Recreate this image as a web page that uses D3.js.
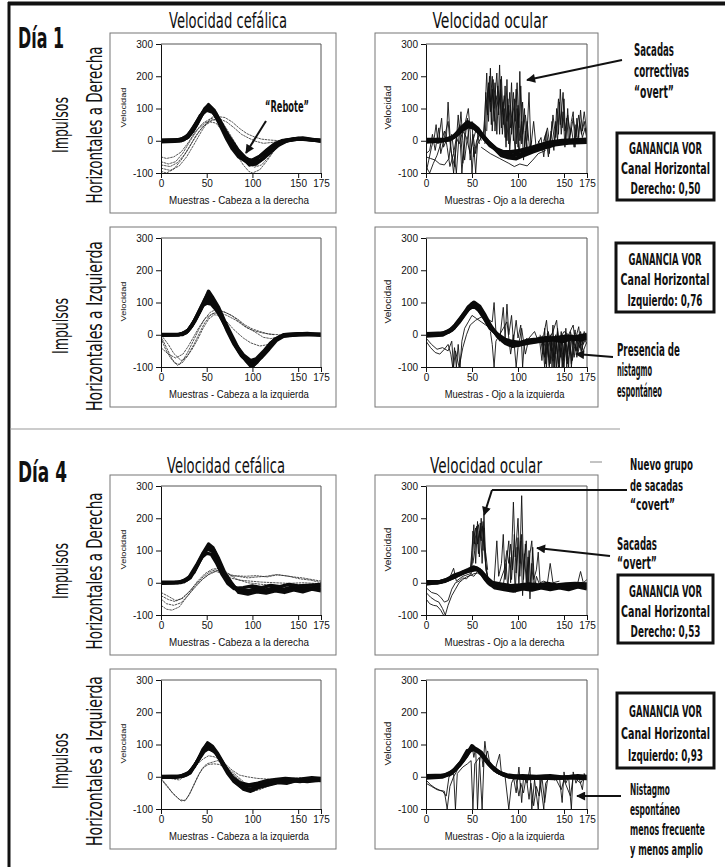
<!doctype html>
<html lang="es">
<head>
<meta charset="utf-8">
<title>Impulsos cefálicos - Día 1 / Día 4</title>
<style>
  body { margin: 0; background: #fff; }
  svg text { fill: #111; }
  .cond { font-family: 'Liberation Sans Narrow', 'DejaVu Sans Condensed', 'Roboto Condensed', sans-serif; }
  .sans { font-family: 'Liberation Sans', Arial, sans-serif; }
  .tick text { font-family: 'Liberation Sans', Arial, sans-serif; font-size: 10px; }
</style>
</head>
<body>
<div id="fig"></div>
<script src="https://cdnjs.cloudflare.com/ajax/libs/d3/7.8.5/d3.min.js"></script>
<script>
// ---- data (samples, velocity) ----
var xTicks = [0, 50, 100, 150, 175];
var yTicks = [-100, 0, 100, 200, 300];
var xTitles = ['Muestras - Cabeza a la derecha', 'Muestras - Cabeza a la izquierda',
               'Muestras - Ojo a la derecha', 'Muestras - Ojo a la izquierda'];
var gainLabels = ['Derecho: 0,50', 'Izquierdo: 0,76', 'Derecho: 0,53', 'Izquierdo: 0,93'];

// Día 1 - cabeza a la derecha
var headD1R_core = [
  [[0,0],[10,1],[20,2],[28,8],[35,30],[42,70],[48,100],[51,108],[55,98],[60,75],[66,40],[72,5],[78,-25],[85,-50],[92,-62],[98,-64],[105,-55],[112,-40],[120,-20],[128,-6],[135,0],[145,4],[155,6],[165,2],[175,0]],
  [[0,-3],[15,-2],[25,3],[32,20],[40,55],[46,88],[50,102],[54,100],[60,85],[66,55],[72,20],[80,-20],[88,-50],[95,-68],[102,-70],[110,-58],[118,-35],[126,-12],[135,0],[150,8],[165,3],[175,-2]],
  [[0,2],[18,3],[27,10],[35,38],[43,78],[50,95],[57,88],[63,65],[70,30],[77,-8],[85,-40],[93,-58],[100,-60],[108,-48],[116,-28],[124,-10],[132,0],[145,6],[160,4],[175,1]],
  [[0,-1],[22,0],[30,12],[38,45],[45,82],[52,112],[58,95],[65,55],[72,18],[80,-18],[90,-55],[97,-75],[104,-72],[112,-55],[122,-25],[132,-5],[142,3],[155,9],[175,0]],
  [[0,1],[20,1],[30,18],[40,62],[48,96],[53,104],[60,78],[68,42],[76,6],[84,-28],[92,-52],[100,-66],[108,-62],[118,-40],[128,-15],[138,0],[150,5],[175,2]]
];
var headD1R_thin = [
  [[0,-50],[6,-55],[14,-50],[22,-35],[30,-5],[38,30],[46,55],[54,68],[62,75],[70,72],[78,58],[86,38],[94,22],[102,12],[110,5],[120,2],[130,0]],
  [[0,-65],[8,-72],[16,-65],[24,-38],[32,0],[40,35],[48,55],[56,65],[64,68],[72,58],[80,40],[88,20],[96,8],[104,-2],[112,-8],[122,-5],[135,0]],
  [[0,-95],[6,-100],[14,-88],[22,-60],[30,-25],[38,15],[46,45],[54,58],[60,55],[66,35],[74,0],[82,-40],[90,-75],[96,-95],[100,-100],[108,-90],[116,-62],[124,-30],[132,-10],[142,0]],
  [[0,-75],[10,-80],[18,-68],[26,-42],[34,-5],[42,30],[50,55],[58,65],[64,58],[70,35],[78,0],[86,-35],[94,-65],[102,-82],[110,-75],[118,-50],[126,-22],[136,-3]],
  [[0,-85],[10,-92],[20,-78],[28,-50],[36,-12],[44,28],[52,62],[58,78],[64,70],[70,45],[78,8],[86,-30],[94,-60],[102,-72],[112,-58],[122,-28],[132,-6]]
];

// Día 1 - cabeza a la izquierda
var headD1L_core = [
  [[0,0],[20,1],[28,8],[35,35],[42,75],[48,110],[51,125],[55,112],[60,90],[66,55],[72,15],[80,-30],[88,-65],[95,-85],[100,-92],[106,-80],[112,-60],[120,-30],[128,-10],[135,0],[150,3],[175,0]],
  [[0,-2],[18,0],[27,5],[34,28],[41,65],[47,100],[50,108],[56,102],[62,80],[68,45],[75,5],[83,-40],[90,-70],[97,-80],[103,-85],[110,-70],[118,-45],[126,-18],[135,-3],[155,2],[175,-1]],
  [[0,1],[22,2],[30,15],[38,50],[45,90],[50,98],[55,95],[62,72],[70,30],[78,-15],[86,-55],[94,-78],[101,-95],[108,-72],[116,-42],[124,-15],[134,0],[160,4],[175,0]],
  [[0,0],[24,1],[32,20],[40,62],[46,95],[52,135],[56,118],[63,85],[70,40],[77,0],[85,-45],[93,-80],[99,-100],[105,-85],[113,-55],[122,-22],[132,-5],[150,0],[175,2]],
  [[0,-1],[20,0],[29,10],[37,42],[44,80],[50,115],[54,108],[60,82],[67,48],[74,10],[82,-32],[90,-62],[98,-80],[104,-75],[112,-52],[120,-25],[130,-6],[140,0],[175,1]]
];
var headD1L_thin = [
  [[0,-10],[5,-45],[10,-70],[15,-88],[20,-92],[25,-75],[30,-50],[36,-15],[42,20],[48,50],[54,70],[60,78],[68,72],[76,62],[84,48],[92,30],[100,18],[108,10],[118,2],[130,0]],
  [[0,-5],[6,-40],[12,-75],[18,-95],[24,-85],[30,-60],[36,-30],[42,5],[48,38],[54,60],[62,75],[70,70],[78,58],[86,40],[94,22],[102,12],[112,5],[124,0]],
  [[0,0],[8,-30],[14,-58],[22,-80],[28,-70],[34,-45],[40,-15],[46,20],[52,48],[58,62],[64,60],[72,40],[80,15],[90,-10],[98,-25],[108,-35],[118,-30],[128,-12],[140,0]],
  [[0,-40],[8,-60],[16,-72],[24,-60],[30,-35],[36,-5],[42,25],[48,50],[56,65],[64,68],[72,60],[82,45],[92,25],[102,10],[112,-8],[120,-12],[132,-5],[145,0]]
];

// Día 4 - cabeza a la derecha
var headD4R_core = [
  [[0,0],[15,1],[25,3],[32,15],[40,55],[46,90],[51,105],[56,98],[62,70],[68,35],[74,5],[80,-12],[86,-22],[95,-25],[105,-18],[115,-22],[125,-15],[135,-20],[145,-12],[155,-18],[165,-15],[175,-10]],
  [[0,-2],[18,0],[28,8],[36,32],[43,72],[49,100],[53,115],[58,100],[64,62],[70,22],[77,-8],[84,-25],[92,-30],[100,-22],[110,-28],[120,-20],[130,-25],[140,-18],[150,-22],[160,-15],[175,-20]],
  [[0,2],[20,2],[30,12],[38,45],[45,80],[50,92],[55,88],[61,60],[67,25],[73,-2],[80,-18],[90,-15],[100,-10],[110,-15],[120,-8],[130,-12],[140,-5],[150,-10],[160,-8],[175,-5]],
  [[0,0],[22,1],[31,18],[39,55],[46,92],[52,120],[57,108],[63,75],[70,30],[77,0],[85,-30],[95,-35],[105,-28],[115,-32],[125,-25],[135,-30],[145,-22],[155,-28],[165,-20],[175,-25]]
];
var headD4R_thin = [
  [[0,-40],[8,-52],[15,-58],[22,-50],[30,-30],[38,-5],[46,18],[54,35],[60,40],[66,32],[74,22],[84,20],[95,15],[105,18],[115,20],[125,25],[135,22],[145,18],[155,15],[165,10],[175,5]],
  [[0,-50],[6,-65],[14,-70],[22,-62],[30,-38],[38,-12],[46,12],[54,30],[62,38],[70,30],[80,22],[92,20],[104,22],[116,18],[128,25],[140,20],[152,12],[164,8],[175,0]],
  [[0,-70],[6,-82],[12,-85],[20,-75],[28,-45],[36,-15],[44,8],[52,25],[60,35],[68,28],[76,15],[86,8],[98,5],[110,2],[125,0],[140,-2],[155,0],[175,-3]],
  [[0,-30],[8,-42],[16,-55],[24,-48],[32,-25],[40,5],[48,28],[56,42],[64,45],[72,32],[82,12],[95,0],[110,-5],[125,-8],[140,-10],[155,-5],[175,-8]]
];

// Día 4 - cabeza a la izquierda
var headD4L_core = [
  [[0,0],[15,-2],[25,2],[32,12],[40,50],[46,85],[50,100],[55,90],[61,70],[67,40],[73,10],[80,-15],[87,-30],[95,-40],[103,-35],[112,-28],[122,-20],[132,-15],[142,-12],[152,-15],[162,-10],[175,-12]],
  [[0,-2],[18,0],[28,6],[36,30],[43,65],[49,90],[54,85],[60,75],[66,50],[72,22],[79,-5],[86,-22],[94,-30],[102,-28],[112,-22],[122,-18],[132,-10],[142,-15],[152,-8],[162,-12],[175,-6]],
  [[0,1],[20,1],[30,10],[38,40],[45,75],[51,105],[56,95],[62,72],[68,42],[75,8],[82,-18],[90,-38],[98,-45],[108,-32],[118,-25],[128,-18],[138,-20],[148,-12],[160,-15],[175,-10]],
  [[0,0],[22,2],[32,15],[40,48],[47,78],[52,88],[58,80],[64,58],[70,30],[78,0],[86,-18],[96,-25],[106,-20],[116,-12],[126,-8],[136,-5],[150,-8],[165,-3],[175,-5]]
];
var headD4L_thin = [
  [[0,-5],[6,-25],[12,-48],[18,-65],[22,-75],[27,-72],[32,-50],[37,-20],[42,10],[47,30],[52,38],[58,40],[64,38],[72,25],[80,5],[88,-15],[96,-30],[105,-35],[115,-25],[125,-18],[140,-15],[155,-12],[175,-8]],
  [[0,-8],[8,-35],[14,-55],[20,-70],[26,-75],[30,-60],[35,-30],[40,0],[45,25],[50,40],[56,45],[62,50],[68,40],[76,20],[84,0],[92,-20],[100,-45],[108,-40],[118,-28],[130,-18],[145,-10],[160,-8],[175,-5]],
  [[0,0],[10,-5],[20,-10],[30,10],[38,35],[46,55],[52,65],[58,62],[64,55],[70,40],[78,20],[86,5],[94,0],[105,-5],[120,-8],[140,-5],[175,-2]]
];

// Día 1 - ojo a la derecha
var eyeD1R_core = [
  [[0,0],[15,0],[25,3],[32,15],[40,35],[46,45],[52,40],[58,25],[64,5],[70,-15],[78,-30],[86,-40],[94,-45],[102,-42],[110,-35],[120,-25],[130,-15],[140,-8],[155,-2],[175,0]],
  [[0,-3],[18,1],[28,8],[36,28],[44,50],[50,52],[56,38],[62,15],[68,-5],[76,-25],[84,-35],[92,-35],[100,-32],[110,-25],[122,-15],[134,-5],[148,0],[175,4]],
  [[0,3],[20,3],[30,12],[38,38],[45,58],[52,45],[60,20],[66,0],[74,-22],[82,-45],[90,-52],[98,-55],[106,-45],[116,-34],[128,-22],[140,-12],[155,-6],[175,-4]]
];
var eyeD1R_thin = [
  [[0,-100],[3,-60],[6,-20],[9,10],[11,50],[13,-10],[15,30],[17,70],[19,-20],[22,0],[24,120],[26,20],[28,-50],[30,-100],[32,-40],[35,80],[37,10],[39,-100],[41,-30],[43,60],[46,100],[48,30],[50,-100],[52,-20],[54,-100],[56,-10],[60,10]],
  [[0,-50],[5,-55],[10,-60],[15,-72],[20,-75],[25,-55],[28,20],[30,-30],[33,-100],[36,20],[38,90],[40,0],[42,-60],[44,-10],[47,40],[50,60],[52,-50],[55,0],[58,20],[62,10]],
  [[0,-80],[4,-100],[8,-70],[12,-45],[16,-10],[20,30],[23,-20],[26,-80],[30,-40],[33,10],[36,-10],[40,30],[44,10],[48,-40],[51,0],[55,40],[58,-10]],
  [[0,-40],[4,-30],[7,20],[10,-30],[14,40],[16,-40],[20,10],[24,60],[27,-30],[31,-80],[34,30],[37,50],[40,-70],[43,20],[45,70],[48,-60],[51,20],[54,-40],[57,30],[60,0]],
  [[62,10],[64,80],[66,210],[68,60],[70,225],[72,30],[75,180],[77,20],[80,235],[82,40],[84,120],[86,10],[88,190],[90,-10],[93,180],[95,0],[98,160],[100,-20],[102,215],[104,-10],[107,100],[109,-30],[112,150],[114,-20],[117,60],[120,-30]],
  [[63,0],[65,150],[67,80],[69,200],[71,50],[73,190],[75,30],[78,170],[80,20],[82,200],[84,50],[86,170],[88,0],[91,150],[93,20],[96,130],[98,-10],[100,110],[102,0],[105,120],[107,-20],[110,60],[113,-40]],
  [[64,-10],[66,120],[68,170],[70,90],[72,160],[74,60],[76,140],[79,100],[81,160],[83,20],[85,100],[87,-20],[89,130],[91,-30],[94,90],[97,-40],[99,100],[101,-50],[104,60],[106,-60],[108,30],[111,-40],[115,0]],
  [[66,30],[68,180],[70,120],[72,200],[74,100],[77,210],[79,80],[81,190],[83,90],[85,140],[88,60],[90,110],[92,40],[95,150],[97,60],[99,180],[101,40],[103,170],[105,20],[108,80],[111,0]],
  [[60,-20],[70,-40],[80,-55],[90,-70],[96,-80],[102,-72],[110,-78],[116,-60],[122,-40],[130,-30]],
  [[120,-20],[125,10],[128,-50],[131,30],[134,-40],[137,60],[140,-10],[142,100],[144,20],[146,160],[148,40],[150,130],[152,-10],[154,100],[156,0],[158,60],[160,90],[162,-20],[164,70],[166,10],[168,95],[170,30],[172,60],[175,0]],
  [[122,0],[126,-30],[130,20],[133,-50],[136,30],[139,-30],[141,60],[143,0],[145,120],[147,20],[149,90],[151,-20],[153,70],[155,-10],[158,40],[161,-20],[163,50],[165,-10],[167,60],[170,10],[173,40],[175,10]],
  [[128,0],[132,40],[135,-20],[138,80],[141,10],[144,130],[146,50],[149,150],[151,30],[154,80],[157,20],[160,70],[163,10],[166,80],[169,20],[172,90],[175,20]]
];

// Día 1 - ojo a la izquierda
var eyeD1L_core = [
  [[0,0],[15,2],[25,10],[32,30],[40,60],[46,80],[52,90],[58,75],[64,50],[70,20],[78,0],[86,-15],[94,-22],[102,-25],[110,-18],[120,-15],[130,-10],[140,-12],[150,-8],[160,-10],[175,-5]],
  [[0,-3],[18,0],[28,15],[36,40],[44,72],[50,95],[56,85],[62,60],[68,30],[76,5],[84,-20],[92,-30],[100,-32],[108,-22],[118,-20],[128,-18],[138,-15],[148,-20],[158,-12],[168,-15],[175,-10]],
  [[0,2],[20,5],[30,20],[38,50],[46,85],[52,100],[58,88],[64,60],[70,28],[78,-5],[86,-25],[94,-35],[102,-30],[112,-25],[122,-20],[132,-15],[142,-10],[152,-5],[162,-8],[175,0]]
];
var eyeD1L_thin = [
  [[125,-10],[128,-40],[130,-90],[132,-20],[134,-100],[136,-10],[138,-80],[140,-5],[142,-100],[144,-15],[146,-70],[148,0],[150,-100],[152,-20],[154,-60],[156,-5],[158,-90],[160,-10],[163,-50],[166,-5],[169,-60],[172,0],[175,-20]],
  [[126,-5],[129,-100],[131,-10],[133,-70],[135,0],[137,-100],[139,-20],[141,-60],[143,10],[145,-100],[147,-10],[149,-80],[151,0],[153,-100],[155,-20],[157,-50],[159,0],[161,-70],[164,-10],[167,-40],[170,0],[175,-15]],
  [[124,0],[127,-60],[129,20],[131,-100],[133,10],[136,-50],[138,30],[140,-100],[143,20],[145,-40],[147,10],[150,-70],[152,20],[155,-100],[157,10],[160,-30],[162,15],[165,-50],[168,10],[171,-30],[175,0]],
  [[123,-5],[126,-80],[128,-10],[130,-60],[132,5],[135,-90],[137,-5],[139,-100],[141,0],[144,-90],[146,-5],[148,-100],[151,-10],[153,-80],[156,0],[158,-100],[161,-5],[164,-70],[166,0],[169,-50],[171,-5],[175,-30]],
  [[127,-20],[129,-70],[132,-30],[134,-95],[137,-40],[139,-70],[142,-30],[144,-100],[147,-40],[149,-100],[152,-30],[154,-90],[157,-40],[159,-80],[162,-30],[165,-60],[168,-20],[171,-50],[175,-20]],
  [[0,-20],[5,-40],[10,-55],[15,-60],[20,-45],[24,-30],[27,-60],[29,-100],[31,-40],[33,-100],[35,-30],[37,-100],[39,-20],[42,20],[46,40],[50,60],[55,50],[60,40],[65,30],[70,20]],
  [[0,-10],[6,-30],[12,-45],[18,-40],[24,-50],[28,-20],[30,-100],[32,-50],[36,-100],[40,-40],[44,0],[48,30],[54,45],[60,55],[66,50],[72,40],[74,100],[76,10],[80,-20],[84,85],[86,-10],[88,95],[90,0],[93,60],[95,-20],[98,45],[100,-10],[103,30],[105,-100],[107,-20],[110,-10]],
  [[70,10],[72,-30],[74,-100],[76,-20],[80,0],[84,20],[88,40],[90,-10],[92,-60],[95,0],[98,-100],[100,-40],[104,20],[108,-60],[112,-10],[118,10],[122,-20],[128,0],[131,45],[133,-20],[138,10],[142,45],[144,-20],[150,10],[155,0],[160,30],[162,-20],[166,25],[168,-30],[172,10],[175,-10]]
];

// Día 4 - ojo a la derecha
var eyeD4R_core = [
  [[0,0],[12,0],[20,5],[28,15],[36,25],[44,35],[50,42],[55,45],[60,30],[65,10],[70,-5],[80,-10],[90,-15],[100,-12],[110,-15],[120,-10],[130,-15],[140,-12],[150,-8],[160,-12],[175,-10]],
  [[0,-3],[14,2],[22,8],[30,22],[38,30],[46,40],[52,48],[58,40],[63,20],[68,0],[75,-15],[85,-20],[95,-25],[105,-18],[115,-22],[125,-15],[135,-20],[145,-15],[155,-20],[165,-12],[175,-18]],
  [[0,2],[16,3],[24,10],[32,20],[40,32],[48,38],[54,42],[60,35],[66,15],[72,0],[82,-5],[92,-10],[102,-8],[112,-5],[122,-8],[132,-3],[142,-8],[152,-5],[162,-3],[175,-5]]
];
var eyeD4R_thin = [
  [[48,40],[50,100],[52,180],[54,60],[56,190],[58,80],[60,200],[62,100],[63,210],[65,60],[67,20]],
  [[49,30],[51,160],[53,120],[55,175],[57,90],[59,185],[61,60],[63,170],[65,40],[68,10]],
  [[50,50],[52,140],[54,170],[56,120],[58,160],[60,130],[62,190],[64,80],[66,30],[69,0]],
  [[51,60],[53,100],[55,150],[57,180],[59,140],[61,175],[63,120],[65,90],[67,40]],
  [[74,0],[77,130],[79,20],[82,60],[84,150],[86,10],[88,80],[90,130],[92,0],[95,250],[97,80],[100,200],[102,60],[104,270],[106,40],[109,130],[111,-10],[113,90],[115,130],[117,10],[120,40],[122,95],[124,0],[128,5],[132,0],[135,60],[138,0],[145,5]],
  [[80,0],[85,40],[88,100],[90,60],[92,120],[94,40],[96,150],[98,30],[100,140],[102,20],[104,150],[106,10],[108,120],[110,-20],[112,100],[114,-10],[116,110],[118,-20],[120,20],[124,-10]],
  [[84,-10],[87,60],[89,-20],[91,80],[93,10],[95,100],[97,-30],[99,110],[101,-10],[103,130],[105,-40],[107,90],[109,0],[111,80],[113,-50],[115,60],[117,-20],[120,0]],
  [[20,0],[25,10],[30,45],[33,5],[40,20],[50,30]],
  [[160,-5],[165,0],[168,35],[171,0],[175,10]],
  [[0,-30],[5,-45],[10,-55],[14,-60],[18,-80],[21,-100],[24,-70],[28,-40],[32,-20],[36,0],[40,10],[44,18],[48,22],[52,28],[56,30],[62,20],[70,10]],
  [[0,-15],[6,-30],[12,-35],[16,-45],[20,-60],[24,-55],[28,-20],[32,0],[36,5],[40,15],[44,12],[48,25],[52,20],[56,35],[60,25],[66,15]],
  [[0,-50],[4,-65],[8,-70],[12,-72],[16,-85],[19,-100]]
];

// Día 4 - ojo a la izquierda
var eyeD4L_core = [
  [[0,0],[15,2],[25,8],[32,25],[40,50],[46,75],[50,88],[55,85],[60,75],[66,50],[72,30],[80,12],[88,5],[100,0],[115,-2],[130,0],[145,-3],[160,0],[175,-2]],
  [[0,-3],[18,0],[28,12],[36,35],[44,65],[50,95],[56,80],[62,65],[68,40],[75,20],[85,5],[95,-2],[110,-5],[125,-3],[140,-5],[155,-2],[175,-5]],
  [[0,2],[20,4],[30,18],[38,45],[45,80],[52,85],[58,78],[64,55],[70,35],[78,15],[90,0],[105,2],[120,0],[135,2],[150,-2],[165,2],[175,0]]
];
var eyeD4L_thin = [
  [[0,-10],[5,-25],[10,-35],[15,-42],[20,-45],[23,-100],[26,-30],[30,0],[34,20],[38,40],[42,60],[46,80],[50,100],[52,60],[54,90],[56,-100],[58,40],[60,80],[62,30],[64,110],[66,60],[68,40],[72,30]],
  [[0,-20],[6,-30],[12,-40],[18,-45],[22,-60],[25,0],[30,10],[32,-100],[34,10],[40,30],[45,40],[49,50],[51,-100],[53,40],[58,60],[61,-100],[63,50],[67,80],[70,30],[75,20],[80,70],[82,10],[86,0],[90,-100],[93,-20],[96,0]],
  [[95,0],[98,-50],[101,30],[104,-80],[106,0],[110,-20],[113,30],[115,-100],[118,-10],[122,-100],[124,-10],[128,-100],[130,-20],[135,0],[140,-10],[145,0],[148,-80],[150,15],[152,-20],[155,0],[158,-100],[160,15],[163,-20],[166,0],[170,-40],[172,10],[175,-10]],
  [[98,-10],[101,-60],[103,-20],[106,-50],[109,0],[112,-70],[114,-20],[117,-90],[120,-30],[123,-60],[126,0],[129,-80],[132,-10],[140,0],[147,-40],[150,-10],[157,-60],[160,0],[168,-20],[172,0]]
];

// ---- layout ----
var W = 725, H = 867;
var cols = [{box: [110, 336], plot: [161, 321]}, {box: [375, 598], plot: [426, 587]}];
var rowTops = [44, 238, 486, 680], plotH = 129;

var svg = d3.select('#fig').append('svg').attr('width', W).attr('height', H)
  .style('background', '#fff');

var defs = svg.append('defs');
defs.append('marker').attr('id', 'arrow').attr('viewBox', '0 0 10 10')
  .attr('refX', 9).attr('refY', 5).attr('markerWidth', 11).attr('markerHeight', 9)
  .attr('markerUnits', 'userSpaceOnUse').attr('orient', 'auto')
  .append('path').attr('d', 'M0,0L10,5L0,10Z').attr('fill', '#111');

// text squeezed to a given width by a horizontal scale (narrow look of the original)
function txt(x, y, s, size, weight, anchor, len, cls, rot) {
  var t = svg.append('text').text(s)
    .attr('class', cls || 'cond')
    .style('font-size', size + 'px').style('font-weight', weight || 'normal')
    .attr('text-anchor', anchor || 'start');
  var sx = 1;
  if (len) sx = len / t.node().getComputedTextLength();
  t.attr('transform', 'translate(' + x + ',' + y + ')' + (rot ? ' rotate(' + rot + ')' : '') + ' scale(' + sx + ',1)');
  return t;
}

// outer frame (top and left) and separator
svg.append('line').attr('x1', 8).attr('x2', W).attr('y1', 3.5).attr('y2', 3.5).attr('stroke', '#111').attr('stroke-width', 4);
svg.append('line').attr('x1', 9).attr('x2', 9).attr('y1', 2).attr('y2', H).attr('stroke', '#111').attr('stroke-width', 3);
svg.append('line').attr('x1', 10).attr('x2', 620).attr('y1', 429).attr('y2', 429).attr('stroke', '#999').attr('stroke-width', 1.2);
svg.append('line').attr('x1', 590).attr('x2', 602).attr('y1', 462).attr('y2', 462).attr('stroke', '#888').attr('stroke-width', 1);

var panels = [
  {c: 0, r: 0, core: headD1R_core, thin: headD1R_thin, title: xTitles[0], eye: false},
  {c: 0, r: 1, core: headD1L_core, thin: headD1L_thin, title: xTitles[1], eye: false},
  {c: 0, r: 2, core: headD4R_core, thin: headD4R_thin, title: xTitles[0], eye: false},
  {c: 0, r: 3, core: headD4L_core, thin: headD4L_thin, title: xTitles[1], eye: false},
  {c: 1, r: 0, core: eyeD1R_core, thin: eyeD1R_thin, title: xTitles[2], eye: true},
  {c: 1, r: 1, core: eyeD1L_core, thin: eyeD1L_thin, title: xTitles[3], eye: true},
  {c: 1, r: 2, core: eyeD4R_core, thin: eyeD4R_thin, title: xTitles[2], eye: true},
  {c: 1, r: 3, core: eyeD4L_core, thin: eyeD4L_thin, title: xTitles[3], eye: true}
];

panels.forEach(function (p, i) {
  var col = cols[p.c], top = rowTops[p.r], bot = top + plotH;
  var x = d3.scaleLinear().domain([0, 175]).range(col.plot);
  var y = d3.scaleLinear().domain([-100, 300]).range([bot, top]);

  // panel frame
  svg.append('rect').attr('x', col.box[0]).attr('y', top - 11)
    .attr('width', col.box[1] - col.box[0]).attr('height', 180)
    .attr('fill', 'none').attr('stroke', '#777').attr('stroke-width', 1);

  var clipId = 'clip' + i;
  defs.append('clipPath').attr('id', clipId).append('rect')
    .attr('x', col.plot[0]).attr('y', top).attr('width', col.plot[1] - col.plot[0]).attr('height', plotH);

  var line = d3.line().x(function (d) { return x(d[0]); }).y(function (d) { return y(d[1]); });
  var g = svg.append('g').attr('clip-path', 'url(#' + clipId + ')');

  g.selectAll('path.thin').data(p.thin).join('path').attr('class', 'thin')
    .attr('d', line).attr('fill', 'none')
    .attr('stroke', p.eye ? '#111' : '#2a2a2a')
    .attr('stroke-width', p.eye ? 0.9 : 0.8)
    .attr('stroke-dasharray', p.eye ? null : '2.5,0.7');
  g.selectAll('path.core').data(p.core).join('path').attr('class', 'core')
    .attr('d', line).attr('fill', 'none').attr('stroke', '#0a0a0a')
    .attr('stroke-width', p.eye ? 4 : 3.4).attr('stroke-linejoin', 'round');

  // plot frame (top / right)
  svg.append('path').attr('d', 'M' + col.plot[0] + ',' + top + 'H' + col.plot[1] + 'V' + bot)
    .attr('fill', 'none').attr('stroke', '#555').attr('stroke-width', 1);

  var ax = svg.append('g').attr('transform', 'translate(0,' + bot + ')')
    .call(d3.axisBottom(x).tickValues(xTicks).tickSize(5).tickSizeOuter(0).tickPadding(2)
      .tickFormat(function (d) { return String(d); }));
  var ay = svg.append('g').attr('transform', 'translate(' + col.plot[0] + ',0)')
    .call(d3.axisLeft(y).tickValues(yTicks).tickSize(5).tickSizeOuter(0).tickPadding(3)
      .tickFormat(function (d) { return String(d); }));
  [ax, ay].forEach(function (a) {
    a.selectAll('path.domain').attr('stroke', '#111');
    a.selectAll('.tick line').attr('stroke', '#111');
    a.selectAll('.tick text').attr('fill', '#111').style('font-size', '10px');
  });

  var cx = (col.plot[0] + col.plot[1]) / 2 - 2;
  txt(cx, bot + 31, p.title, 10.5, 'normal', 'middle', p.eye ? 120 : 140, 'sans');
  txt(col.plot[0] - 35, top + plotH / 2 - 1, 'Velocidad', p.eye ? 9 : 8, 'normal', 'middle',
      p.eye ? 44 : 40, 'sans', -90);
});

// ---- titles & row labels ----
txt(18, 48, 'Día 1', 28, 'bold', 'start', 46);
txt(18, 482, 'Día 4', 28, 'bold', 'start', 49);
txt(228, 28, 'Velocidad cefálica', 21, 'normal', 'middle', 118);
txt(490, 28, 'Velocidad ocular', 21, 'normal', 'middle', 115);
txt(226, 473, 'Velocidad cefálica', 21, 'normal', 'middle', 118);
txt(486, 473, 'Velocidad ocular', 21, 'normal', 'middle', 112);

var rowLabels = [['Impulsos', 'Horizontales a Derecha'], ['Impulsos', 'Horizontales a Izquierda'],
                 ['Impulsos', 'Horizontales a Derecha'], ['Impulsos', 'Horizontales a Izquierda']];
var rowCenters = [125, 326, 571, 761];
rowLabels.forEach(function (lab, i) {
  txt(68, rowCenters[i], lab[0], 22, 'normal', 'middle', 56, 'cond', -90);
  txt(102, rowCenters[i], lab[1], 22, 'normal', 'middle', i % 2 ? 170 : 157, 'cond', -90);
});

// ---- gain boxes ----
var gainBoxes = [[617, 133, 97, 67], [616, 243, 98, 69], [618, 575, 95, 68], [617, 693, 97, 75]];
gainBoxes.forEach(function (b, i) {
  svg.append('rect').attr('x', b[0]).attr('y', b[1]).attr('width', b[2]).attr('height', b[3])
    .attr('fill', '#fff').attr('stroke', '#111').attr('stroke-width', 3);
  var cx = b[0] + b[2] / 2, gap = (b[3] - 8) / 3;
  txt(cx, b[1] + 4 + gap * 0.88, 'GANANCIA VOR', 15.5, 'bold', 'middle', 73);
  txt(cx, b[1] + 4 + gap * 1.88, 'Canal Horizontal', 15.5, 'bold', 'middle', 89);
  txt(cx, b[1] + 4 + gap * 2.88, gainLabels[i], 15.5, 'bold', 'middle', i % 2 ? 75 : 70);
});

// ---- annotations ----
function arrow(pts, head) {
  svg.append('path').attr('d', d3.line()(pts)).attr('fill', 'none')
    .attr('stroke', '#111').attr('stroke-width', 2)
    .attr('marker-end', head ? 'url(#arrow)' : null);
}
txt(265, 112, '\u201CRebote\u201D', 16, 'bold', 'start', 44);
arrow([[266, 121], [246, 153]], true);

txt(634, 56, 'Sacadas', 17, 'bold', 'start', 40);
txt(634, 77, 'correctivas', 17, 'bold', 'start', 55);
txt(634, 98, '\u201Covert\u201D', 17, 'bold', 'start', 40);
arrow([[622, 60], [527, 80]], true);

txt(617, 356, 'Presencia de', 17, 'bold', 'start', 63);
txt(617, 376, 'nistagmo', 17, 'bold', 'start', 35);
txt(617, 397, 'espontáneo', 17, 'bold', 'start', 45);
arrow([[613, 357], [576, 354]], true);

txt(630, 470, 'Nuevo grupo', 16, 'bold', 'start', 63);
txt(630, 491, 'de sacadas', 16, 'bold', 'start', 53);
txt(630, 510, '\u201Ccovert\u201D', 16, 'bold', 'start', 45);
arrow([[627, 490], [492, 490]], false);
arrow([[492, 490], [484, 515]], true);

txt(617, 550, 'Sacadas', 17, 'bold', 'start', 40);
txt(617, 569, '\u201Covert\u201D', 17, 'bold', 'start', 40);
arrow([[610, 556], [537, 548]], true);

txt(630, 795, 'Nistagmo', 16, 'bold', 'start', 40);
txt(630, 815, 'espontáneo', 16, 'bold', 'start', 50);
txt(630, 835, 'menos frecuente', 16, 'bold', 'start', 75);
txt(630, 855, 'y menos amplio', 16, 'bold', 'start', 73);
arrow([[621, 796], [577, 796]], true);
</script>
</body>
</html>
